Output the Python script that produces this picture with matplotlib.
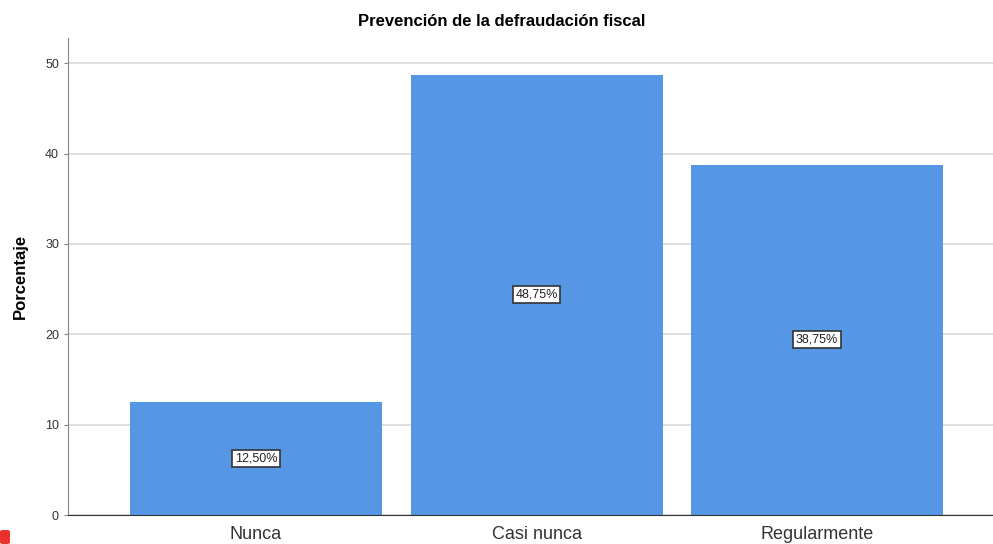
import numpy as np
import matplotlib.pyplot as plt
from matplotlib.patches import FancyBboxPatch

plt.rcParams['font.family'] = ['Liberation Sans', 'DejaVu Sans']

# porcentajes por categoría
categorias = ['Nunca', 'Casi nunca', 'Regularmente']
porcentajes = [12.50, 48.75, 38.75]
etiquetas = ['12,50%', '48,75%', '38,75%']
yticks = [0, 10, 20, 30, 40, 50]

fig = plt.figure(figsize=(9.93, 5.44), dpi=100)
ax = fig.add_axes([68/993, 1 - 515/544, (993 - 68)/993, (515 - 38)/544])

x = np.arange(len(categorias))
ax.bar(x, porcentajes, width=0.898, color='#5596e5', zorder=2)

for xi, v, t in zip(x, porcentajes, etiquetas):
    ax.text(xi, v / 2, t, ha='center', va='center', fontsize=9, color='#222222',
            bbox=dict(boxstyle='square,pad=0.2', fc='white', ec='#333333', lw=1.2), zorder=3)

ax.set_xlim(-0.67, 2.627)
ax.set_ylim(0, 52.8)
ax.set_yticks(yticks)
ax.yaxis.grid(True, color='#d9d9d9', lw=1.2, zorder=0)
ax.set_xticks(x)
ax.set_xticklabels(categorias, fontsize=13, color='#333333')
ax.tick_params(axis='y', labelsize=9, length=3, color='#888888', labelcolor='#333333')
ax.tick_params(axis='x', length=0, pad=8)

for s in ['top', 'right']:
    ax.spines[s].set_visible(False)
ax.spines['left'].set_color('#888888')
ax.spines['bottom'].set_color('#333333')

ax.set_ylabel('Porcentaje', fontsize=12, fontweight='bold', labelpad=12)
fig.text(0.505, 1 - 22/544, 'Prevención de la defraudación fiscal', ha='center', va='center',
         fontsize=12, fontweight='bold')

# marca roja en la esquina
fig.patches.append(FancyBboxPatch((0, 0), 10/993, 14/544, boxstyle='round,pad=0,rounding_size=0.003',
                                  transform=fig.transFigure, fc='#e8322e', ec='none'))

fig.savefig('out.png', dpi=100)
